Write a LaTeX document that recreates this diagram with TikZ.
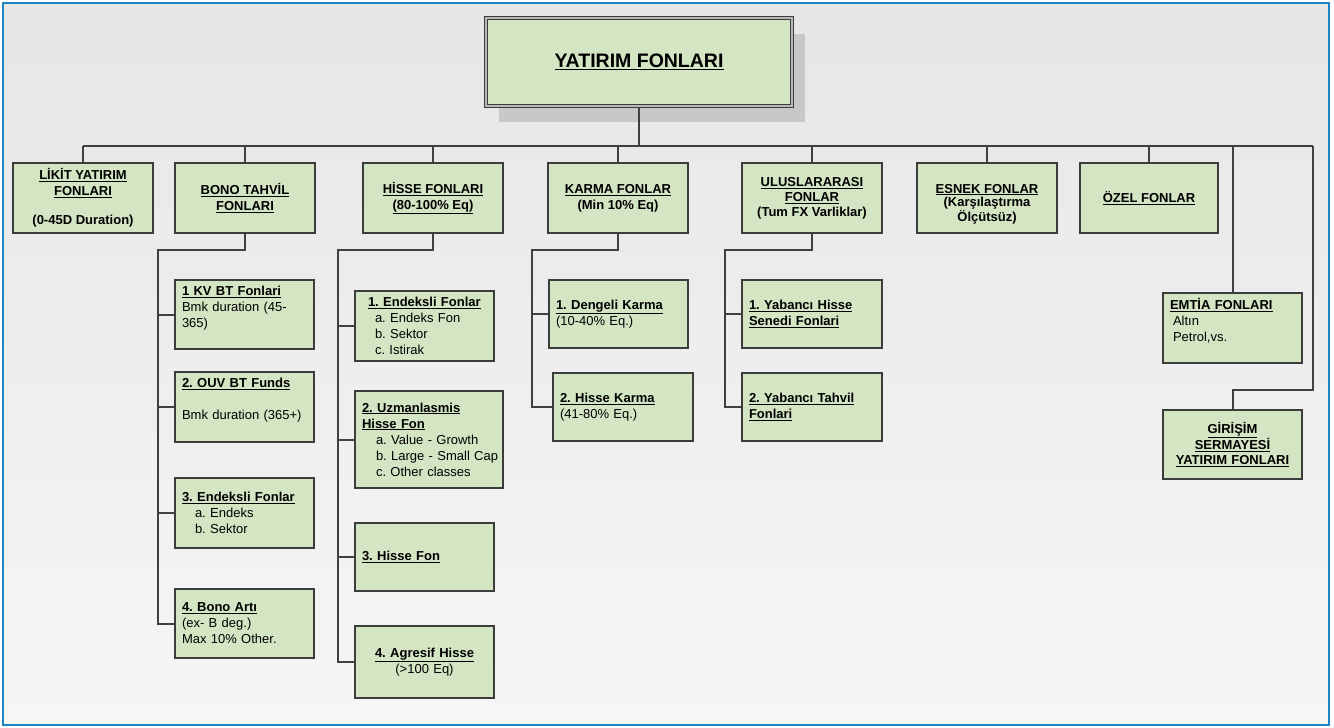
\documentclass[tikz,border=0pt]{standalone}
\usepackage{fontspec}
\setmainfont{Liberation Sans}
\usetikzlibrary{shadows}
\definecolor{bgtop}{HTML}{E6E6E6}
\definecolor{bgbot}{HTML}{F6F6F6}
\definecolor{frameblue}{HTML}{1F84C6}
\definecolor{boxfill}{HTML}{D4E5C4}
\definecolor{boxln}{HTML}{3C3C3C}
\definecolor{lnc}{HTML}{404040}
\definecolor{shadowc}{HTML}{C8C8C8}
\newcommand\fs{\fontsize{13}{16}\selectfont}
\newcommand\hd[1]{\textbf{\underline{#1}}}
\tikzset{
 box/.style={draw=boxln, fill=boxfill, line width=1.8pt, rectangle, inner sep=0pt},
 lvl/.style={box, font=\bfseries\fs, align=center, minimum width=140pt, minimum height=70pt},
 kid/.style={box, font=\fs, align=left, inner xsep=7pt, inner ysep=0pt},
 conn/.style={draw=lnc, line width=2pt},
}
\begin{document}
\frenchspacing
\begin{tikzpicture}[x=1pt,y=-1pt]
\useasboundingbox (0,0) rectangle (1334,728);
\fill[white] (0,0) rectangle (1334,728);
\shade[top color=bgtop, bottom color=bgbot] (3,3) rectangle (1329,725);
\draw[frameblue, line width=2pt] (3,3) rectangle (1329,725);

% root
\node[box, line width=1.2pt, double=gray!55, double distance=1.2pt,
      drop shadow={shadow xshift=13pt, shadow yshift=-16pt, fill=shadowc, opacity=1},
      minimum width=306pt, minimum height=88pt, font=\bfseries\fontsize{19.5}{22}\selectfont]
  (root) at (639,62) {\underline{YATIRIM FONLARI}};

% level 1
\node[lvl] (likit) at (83,198) {\underline{LİKİT YATIRIM}\\\underline{FONLARI}\\[13pt](0-45D Duration)};
\node[lvl] (bono) at (245,198) {\underline{BONO TAHVİL}\\\underline{FONLARI}};
\node[lvl] (hisse) at (433,198) {\underline{HİSSE FONLARI}\\\underline{(80-100\% Eq)}};
\node[lvl] (karma) at (618,198) {\underline{KARMA FONLAR}\\(Min 10\% Eq)};
\node[lvl, font=\bfseries\fontsize{13}{15}\selectfont] (ulus) at (812,198) {\underline{ULUSLARARASI}\\\underline{FONLAR}\\(Tum FX Varliklar)};
\node[lvl, font=\bfseries\fontsize{13}{13.5}\selectfont] (esnek) at (987,198) {\rule{0pt}{21pt}\underline{ESNEK FONLAR}\\(Karşılaştırma\\Ölçütsüz)};
\node[lvl, minimum width=138pt] (ozel) at (1149,198) {\underline{ÖZEL FONLAR}};
\node[kid, text width=125pt, minimum height=70pt] (emtia) at (1232.5,328) {\hd{EMTİA FONLARI}\\\hspace*{3pt}Altın\\\hspace*{3pt}Petrol,vs.\\\mbox{}};
\node[kid, align=center, text width=125pt, minimum height=69pt, font=\bfseries\fontsize{13}{15}\selectfont] (girisim) at (1232.5,444.5) {\underline{GİRİŞİM}\\\underline{SERMAYESİ}\\\underline{YATIRIM FONLARI}};

% bono children
\node[kid, text width=125pt, minimum height=69pt] (b1) at (244.5,314.5) {\hd{1 KV BT Fonlari}\\Bmk duration (45-\\365)\\\mbox{}};
\node[kid, text width=125pt, minimum height=70pt] (b2) at (244.5,407) {\hd{2. OUV BT Funds}\\\mbox{}\\Bmk duration (365+)\\\mbox{}};
\node[kid, text width=125pt, minimum height=70pt] (b3) at (244.5,513) {\hd{3. Endeksli Fonlar}\\\hspace*{13pt}a. Endeks\\\hspace*{13pt}b. Sektor};
\node[kid, text width=125pt, minimum height=69pt] (b4) at (244.5,623.5) {\hd{4. Bono Artı}\\(ex- B deg.)\\Max 10\% Other.};

% hisse children
\node[kid, text width=125pt, minimum height=70pt] (h1) at (424.5,326) {\hspace*{6pt}\hd{1. Endeksli Fonlar}\\\hspace*{13pt}a. Endeks Fon\\\hspace*{13pt}b. Sektor\\\hspace*{13pt}c. Istirak};
\node[kid, text width=134pt, minimum height=97pt] (h2) at (429,439.5) {\hd{2. Uzmanlasmis}\\\hd{Hisse Fon}\\\mbox{\hspace*{14pt}a. Value - Growth}\\\mbox{\hspace*{14pt}b. Large - Small Cap}\\\mbox{\hspace*{14pt}c. Other classes}};
\node[kid, text width=125pt, minimum height=68pt] (h3) at (424.5,557) {\hd{3. Hisse Fon}};
\node[kid, align=center, text width=125pt, minimum height=72pt] (h4) at (424.5,662) {\hd{4. Agresif Hisse}\\(>100 Eq)};

% karma children
\node[kid, text width=125pt, minimum height=68pt] (k1) at (618.5,314) {\hd{1. Dengeli Karma}\\(10-40\% Eq.)};
\node[kid, text width=126pt, minimum height=68pt] (k2) at (623,407) {\hd{2. Hisse Karma}\\(41-80\% Eq.)};

% ulus children
\node[kid, text width=126pt, minimum height=68pt] (u1) at (812,314) {\hd{1. Yabancı Hisse}\\\hd{Senedi Fonlari}};
\node[kid, text width=126pt, minimum height=68pt] (u2) at (812,407) {\hd{2. Yabancı Tahvil}\\\hd{Fonlari}};

% connectors level 1
\coordinate (bus) at (639,146);
\coordinate (busR) at (1313,146);
\coordinate (gj) at (1232.5,390);
\draw[conn] (root.south) -- (bus);
\draw[conn] (likit.north |- bus) -- (busR);
\foreach \n in {likit,bono,hisse,karma,ulus,esnek,ozel,emtia}
  \draw[conn] (\n.north |- bus) -- (\n.north);
\draw[conn] (busR) |- (gj) -- (girisim.north);

% sub-trees
\coordinate (bj) at (158,250);
\draw[conn] (bono.south) |- (bj) |- (b4.west);
\foreach \n in {b1,b2,b3} \draw[conn] (bj |- \n.west) -- (\n.west);

\coordinate (hj) at (338,250);
\draw[conn] (hisse.south) |- (hj) |- (h4.west);
\foreach \n in {h1,h2,h3} \draw[conn] (hj |- \n.west) -- (\n.west);

\coordinate (kj) at (532,250);
\draw[conn] (karma.south) |- (kj) |- (k2.west);
\draw[conn] (kj |- k1.west) -- (k1.west);

\coordinate (uj) at (725,250);
\draw[conn] (ulus.south) |- (uj) |- (u2.west);
\draw[conn] (uj |- u1.west) -- (u1.west);
\end{tikzpicture}
\end{document}
